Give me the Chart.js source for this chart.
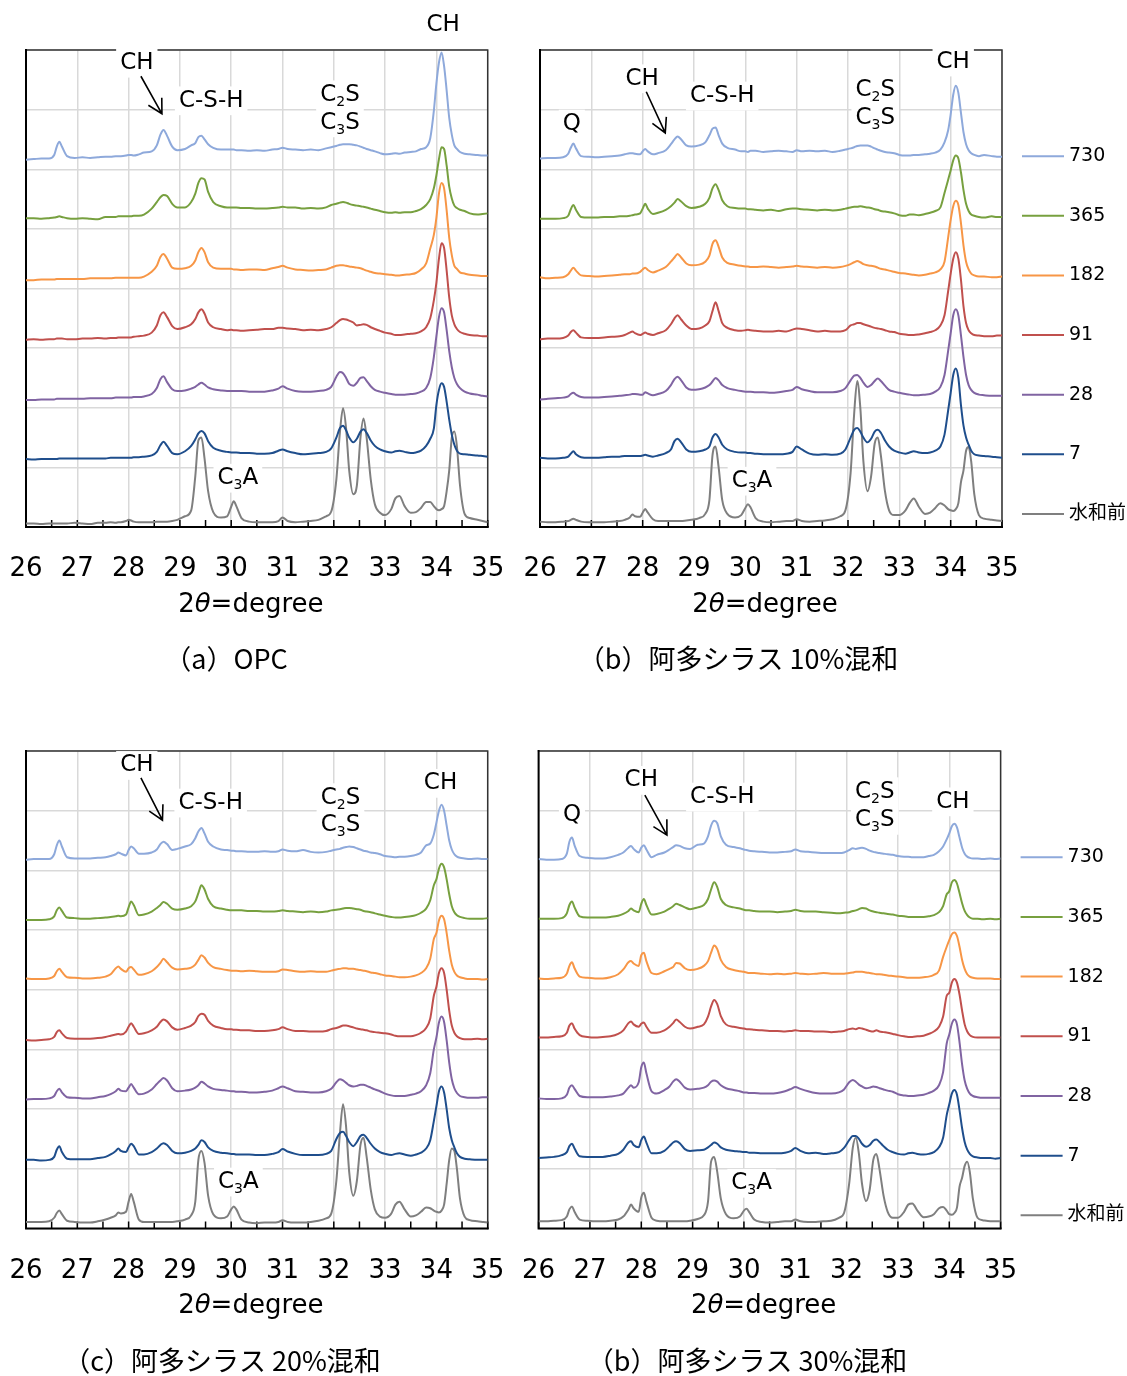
<!DOCTYPE html>
<html>
<head>
<meta charset="utf-8">
<script src="https://cdn.jsdelivr.net/npm/chart.js@4.4.1/dist/chart.umd.min.js"></script>
<style>
  html, body { margin: 0; padding: 0; background: #fff; }
  #wrap { position: relative; width: 1127px; height: 1376px; overflow: hidden; }
  canvas { position: absolute; }
</style>
</head>
<body>
<div id="wrap">
  <canvas id="pa" width="513" height="700" style="left:0;top:0"></canvas>
  <canvas id="pb" width="614" height="700" style="left:513px;top:0"></canvas>
  <canvas id="pc" width="513" height="676" style="left:0;top:700px"></canvas>
  <canvas id="pd" width="614" height="676" style="left:513px;top:700px"></canvas>
</div>
<script>
// 2θ sampling positions (degrees)
const twoTheta = [
  26.0, 26.15, 26.3, 26.45, 26.55, 26.6, 26.65, 26.7, 26.8, 26.95,
  27.1, 27.25, 27.4, 27.55, 27.65, 27.75, 27.8, 27.85, 27.95,
  28.0, 28.05, 28.1, 28.2, 28.3, 28.45, 28.55, 28.62, 28.68, 28.75, 28.85, 28.95,
  29.1, 29.22, 29.3, 29.36, 29.42, 29.48, 29.55, 29.65, 29.8, 29.92,
  30.0, 30.05, 30.1, 30.2, 30.35, 30.5, 30.65, 30.8, 30.92,
  31.0, 31.1, 31.25, 31.4, 31.55, 31.7, 31.85, 31.95,
  32.05, 32.12, 32.18, 32.24, 32.3, 32.38, 32.45, 32.52, 32.58, 32.64, 32.72, 32.8, 32.9,
  33.0, 33.12, 33.2, 33.28, 33.38, 33.5, 33.6, 33.7, 33.8, 33.88, 33.95,
  34.0, 34.05, 34.1, 34.15, 34.2, 34.25, 34.3, 34.35, 34.4, 34.46, 34.55, 34.65, 34.8, 34.9, 35.0
];

// curing age of each trace (top to bottom) and its vertical stacking step
const ages = ['730', '365', '182', '91', '28', '7', '水和前'];
const stackOffset = [600, 500, 400, 300, 200, 100, 0];
const lineColors = ['#8EA9DB', '#77A03F', '#F79646', '#C0504D', '#8064A2', '#1F4E8C', '#7F7F7F'];

// (a) OPC — intensity above each trace's stacking step
const opc730 = [16,17,18,18,24,38,46,38,22,19, 20,19,20,21,21,22,22,22,23, 24,24,23,25,28,30,40,58,66,56,38,32, 34,40,44,54,56,50,42,36,33,33, 33,33,32,32,31,32,31,33,34, 36,34,33,32,33,32,35,37, 39,41,42,42,42,41,40,38,36,34,32,30,27, 25,26,27,26,28,29,30,34,37,52,98, 144,179,196,173,132,86,58,40,34,29,26,25,24,23,23];
const opc365 = [18,18,17,18,19,20,21,20,18,17, 18,17,16,20,20,20,21,21,21, 21,21,22,22,24,34,45,53,57,55,42,36, 36,45,59,77,85,83,62,45,38,36, 36,36,36,35,35,34,34,35,36, 37,36,36,34,35,34,36,40, 42,44,45,44,42,40,39,38,37,36,34,32,30, 28,27,28,27,28,28,30,33,40,50,68, 90,117,137,134,106,71,51,39,35,32,30,26,24,25,26];
const opc182 = [14,14,15,15,15,16,16,16,16,16, 16,17,17,17,17,18,18,18,18, 18,18,18,18,20,28,38,53,58,50,35,33, 34,38,47,61,68,61,44,35,33,33, 33,32,32,31,32,32,31,34,36, 38,35,32,31,30,31,32,35, 38,39,39,38,37,36,35,34,32,30,28,26,25, 24,23,22,22,23,24,26,32,42,67,90, 119,159,177,168,131,85,56,38,33,27,25,23,22,21,21];
const opc91 = [14,15,14,15,15,16,16,16,15,15, 16,16,17,16,17,17,18,18,18, 18,18,19,20,21,26,38,55,60,52,37,32, 35,40,49,60,65,58,43,35,32,30, 31,30,30,29,30,31,32,32,34, 34,33,32,30,31,30,32,35, 42,47,49,48,46,43,38,39,40,39,35,32,29, 26,24,22,22,23,24,25,28,35,50,80, 110,150,176,168,130,85,55,40,32,27,24,22,21,20,20];
const opc28 = [13,13,14,14,14,15,15,15,15,15, 15,16,16,16,16,17,17,17,17, 17,17,18,18,19,23,33,48,53,43,31,28, 29,32,35,39,42,39,34,31,29,28, 28,28,28,28,27,27,27,29,32, 36,32,28,27,27,28,30,35, 52,60,58,50,40,37,42,50,51,45,36,30,27, 25,23,22,22,22,23,24,27,33,50,85, 120,152,167,160,130,95,68,50,40,33,27,24,22,20,19];
const opc7 = [14,13,14,14,14,14,15,15,15,15, 15,15,15,15,16,16,16,16,16, 16,16,17,17,18,20,26,37,43,36,24,22, 27,36,47,57,61,57,44,33,28,26, 25,25,25,24,24,23,23,24,28, 30,27,24,22,23,24,26,32, 50,66,70,62,50,42,48,60,64,58,45,36,30, 27,25,27,28,26,24,25,28,36,48,65, 105,130,141,135,110,80,55,38,28,23,22,21,20,19,18];
const opcRaw = [6,6,5,6,6,6,6,6,6,7, 6,5,7,7,8,7,8,8,10, 12,11,9,8,8,8,9,9,9,9,10,12, 18,28,85,145,150,115,60,25,16,18, 34,43,35,15,9,8,8,8,10, 16,10,8,9,10,12,18,26, 80,160,199,165,95,55,70,150,182,150,80,38,24, 20,30,48,52,35,24,25,32,42,42,35, 30,28,30,35,60,95,150,160,135,70,22,15,12,10,8];

// (b) 阿多シラス 10%
const s10_730 = [18,19,19,20,26,36,43,35,22,21, 20,21,22,23,25,27,27,26,25, 30,34,30,25,27,32,42,50,55,50,40,38, 40,45,57,68,70,57,43,36,33,30, 30,29,31,31,29,30,31,30,29, 32,30,31,30,31,29,31,33, 35,37,39,40,40,40,38,35,33,31,29,28,27, 24,23,23,24,24,25,26,28,33,45,65, 92,125,140,128,95,62,42,32,27,24,22,24,22,21,21];
const s10_365 = [17,17,17,18,22,33,40,32,20,19, 19,20,20,21,21,22,23,24,26, 34,42,34,25,27,32,38,44,50,46,38,35, 37,42,52,68,75,65,48,38,35,34, 34,33,33,32,31,32,30,33,34, 34,33,32,31,32,31,32,34, 36,37,37,38,37,36,35,33,32,30,29,28,26, 23,22,24,24,23,25,27,30,36,60,82, 98,115,123,118,95,65,42,30,24,22,20,19,21,20,20];
const s10_182 = [19,17,18,19,24,30,35,30,22,21, 20,21,22,23,24,24,25,25,28, 32,35,31,27,30,36,45,52,58,52,42,39, 40,45,55,75,81,70,52,43,40,38, 37,37,36,36,37,36,35,36,37, 38,37,36,35,36,35,36,38, 41,44,46,44,41,39,38,37,35,33,32,30,28, 26,25,24,23,22,23,25,27,32,45,85, 115,138,147,140,110,72,45,32,25,22,20,20,19,19,20];
const s10_91 = [15,16,16,17,21,27,30,26,18,17, 17,18,19,20,22,26,28,25,22, 24,26,24,22,25,30,40,50,55,48,38,32, 33,38,45,62,77,62,42,34,30,29, 30,31,30,29,28,28,29,28,31, 33,32,30,28,29,28,28,30, 38,40,42,42,40,38,36,34,33,32,30,28,27, 24,23,22,22,23,25,27,30,38,55,95, 125,150,161,150,115,70,42,30,25,22,21,20,20,21,21];
const s10_28 = [14,15,16,17,19,23,25,22,18,17, 17,18,19,20,21,22,23,23,22, 22,26,24,21,23,28,38,48,52,46,34,30, 31,34,38,44,50,46,38,33,30,28, 27,27,27,26,26,25,26,28,30, 35,31,28,26,26,26,28,33, 46,54,55,50,42,35,38,45,49,45,37,30,27, 25,23,22,21,21,22,23,27,35,55,95, 125,155,165,155,122,85,55,38,30,25,22,21,20,20,20];
const s10_7 = [16,15,15,16,18,23,27,22,17,16, 16,17,18,18,19,19,19,19,19, 20,21,20,18,20,24,30,44,48,42,30,26, 27,30,35,50,56,50,38,30,26,25, 25,24,24,23,22,22,22,23,26, 35,30,23,21,22,21,23,30, 50,63,66,60,50,42,48,60,63,58,45,35,28, 25,23,25,27,25,24,25,28,35,55,95, 125,155,166,150,105,70,50,38,28,22,20,19,18,17,16];
const s10_raw = [9,8,8,9,10,12,14,12,9,8, 8,8,9,10,12,16,21,18,17, 24,30,24,13,10,10,10,10,10,10,11,12, 15,22,45,120,135,100,45,22,16,20, 32,38,33,15,9,8,9,10,10, 13,10,9,10,11,13,18,28, 90,190,245,200,110,60,85,140,150,120,60,28,20, 20,28,40,48,34,22,24,32,40,36,30, 28,27,30,40,75,95,128,134,110,55,20,14,12,11,10];

// (c) 阿多シラス 20%
const s20_730 = [18,19,19,19,27,42,50,40,22,20, 20,20,21,22,24,27,30,28,25, 34,40,37,28,28,30,35,44,48,44,34,36, 40,44,54,65,71,62,48,40,35,34, 33,33,32,32,31,31,32,31,32, 35,33,32,34,31,30,31,33, 35,36,38,39,40,39,37,35,33,32,30,29,27, 24,23,22,23,23,24,26,30,42,45,60, 80,100,110,100,75,50,35,27,23,21,20,19,20,19,19];
const s20_365 = [17,17,17,18,23,33,38,32,21,20, 19,19,20,21,22,23,24,23,26, 38,48,42,25,26,31,37,42,47,44,36,34, 36,40,48,62,75,68,52,40,36,34, 33,33,33,33,32,32,31,31,32, 33,32,31,30,31,30,31,33, 34,35,36,37,37,36,35,34,32,31,30,28,26, 24,22,21,21,22,23,25,29,36,50,75, 85,103,111,105,85,60,40,30,25,22,20,19,19,19,20];
const s20_182 = [19,18,18,19,23,31,35,30,21,20, 19,19,20,22,26,36,39,35,30, 36,38,34,25,26,31,38,45,52,46,37,34, 35,37,42,50,58,54,45,38,35,33, 32,32,32,31,32,31,30,30,31, 34,33,31,30,31,30,30,32, 34,35,36,36,35,35,34,33,32,31,29,28,26, 24,23,22,21,21,22,24,28,36,52,85, 95,116,124,118,95,65,42,30,24,21,19,18,18,17,18];
const s20_91 = [16,15,16,17,21,29,32,27,19,18, 18,18,19,21,23,25,26,25,30, 38,44,38,26,27,32,38,46,50,47,37,33, 36,40,46,56,60,58,48,40,36,34, 34,33,33,32,32,31,31,32,34, 37,34,31,31,30,30,31,34, 36,38,40,40,39,37,35,34,33,32,30,29,28, 27,25,23,22,22,22,24,28,36,52,90, 105,128,136,128,100,65,40,28,22,19,17,17,18,17,18];
const s20_28 = [16,17,17,18,22,30,34,28,20,19, 18,18,20,22,25,30,34,31,30, 36,42,36,25,26,33,42,48,52,48,35,30, 31,33,36,40,46,43,38,34,32,31, 30,30,29,29,28,28,29,31,35, 38,35,30,29,28,28,30,34, 45,50,48,44,40,38,39,41,41,39,36,33,30, 26,23,22,22,22,24,26,30,40,60,100, 120,145,155,146,115,78,50,35,27,22,20,19,19,20,20];
const s20_7 = [15,15,14,15,20,32,38,28,17,16, 16,16,18,20,24,30,34,30,28, 36,42,38,24,24,28,34,40,43,40,30,26, 27,30,34,40,48,45,36,30,27,26, 25,25,24,24,24,23,23,25,28, 33,29,25,23,23,23,25,30, 50,60,62,55,45,38,45,55,57,52,42,34,28, 25,23,25,26,24,22,24,27,34,48,80, 105,130,138,128,100,68,48,36,26,20,17,16,15,15,15];
const s20_raw = [11,11,11,12,18,26,30,24,13,11, 10,10,12,15,18,22,27,25,28, 45,58,45,15,11,11,11,11,11,11,11,12, 15,22,45,115,130,110,55,24,17,20, 32,37,32,15,10,9,10,10,11, 14,11,10,10,11,13,17,25, 80,160,208,170,95,55,80,140,152,120,65,32,20, 18,25,40,45,32,20,22,28,35,34,30, 28,27,30,40,75,115,134,130,100,50,20,14,12,11,10];

// (d) 阿多シラス 30%
const s30_730 = [19,18,18,19,28,48,55,42,24,21, 20,20,22,26,30,38,41,36,30, 38,42,35,22,26,30,35,39,42,41,37,36, 43,45,57,75,83,79,57,43,39,37, 35,34,33,32,31,30,30,31,32, 35,32,31,30,29,29,29,30, 34,37,36,37,38,36,33,31,30,29,28,27,26, 24,23,23,22,22,22,24,26,32,40,52, 62,74,78,72,55,38,28,23,21,20,20,19,20,19,20];
const s30_365 = [19,19,19,20,28,42,48,38,23,21, 21,21,22,24,27,32,36,33,30, 44,52,42,26,27,31,36,40,44,42,38,35, 38,42,52,68,80,72,52,42,38,36, 34,33,33,32,31,31,30,31,32, 34,32,31,31,30,29,28,29, 30,32,33,35,37,36,33,31,30,29,28,27,26, 24,23,22,22,22,22,23,25,30,40,60, 65,80,84,78,62,45,32,25,21,19,19,18,19,18,19];
const s30_182 = [19,18,19,20,27,40,46,36,22,20, 19,19,21,26,34,46,48,44,40, 58,62,48,28,26,31,35,38,45,44,36,33, 35,40,48,62,74,68,50,38,33,31, 30,29,28,28,27,26,27,26,27, 28,27,26,27,28,27,27,27, 28,29,30,30,30,29,28,27,26,26,25,24,23, 22,21,20,20,20,21,22,25,32,55,72, 83,93,96,90,72,50,35,26,22,20,19,19,19,18,18];
const s30_91 = [20,20,21,22,28,40,44,35,24,21, 20,21,22,26,32,44,47,42,38, 43,45,38,28,28,32,38,44,50,46,38,35, 38,42,55,72,83,76,56,42,38,36, 35,34,34,33,32,31,31,30,31, 32,31,31,30,30,29,30,31, 34,35,34,36,35,33,31,30,32,30,29,28,26, 24,22,21,21,22,23,26,30,38,55,90, 95,112,118,112,92,65,42,30,24,21,20,20,20,20,20];
const s30_28 = [18,17,17,18,24,36,40,34,22,20, 20,20,21,23,26,36,40,36,45, 70,78,60,30,26,32,38,46,50,46,36,33, 34,36,40,46,48,46,40,35,32,30, 28,28,27,27,26,26,27,30,34, 37,34,30,27,26,26,28,33, 45,49,46,41,38,35,36,38,37,35,33,31,29, 25,23,22,22,23,24,27,31,40,62,110, 125,143,150,142,112,75,48,34,26,22,20,19,19,19,19];
const s30_7 = [18,19,20,23,28,38,42,34,21,20, 20,20,22,25,32,44,46,40,36, 48,54,44,26,26,30,38,44,46,43,33,30, 31,32,36,40,44,42,36,32,30,29, 28,28,27,27,26,26,26,27,30, 35,30,26,27,25,26,28,35, 48,55,55,50,42,37,40,47,49,45,38,32,28, 25,24,26,27,25,24,25,28,36,52,90, 108,126,132,124,98,68,45,32,25,21,19,18,18,17,18];
const s30_raw = [12,12,13,14,20,32,37,28,15,13, 12,12,13,15,20,32,40,34,28, 52,60,45,18,13,12,12,12,12,12,12,13, 16,22,45,112,120,95,50,24,17,20, 30,33,28,15,11,10,11,12,12, 15,12,11,11,12,13,18,26, 75,135,152,125,75,46,65,115,125,100,55,28,18, 18,28,40,42,30,19,20,24,34,36,30, 24,23,26,35,70,85,105,112,95,50,18,14,12,12,12];

// x-axis tick labels
const tickDegrees = [26, 27, 28, 29, 30, 31, 32, 33, 34, 35];

const FONT = '"DejaVu Sans", "Noto Sans CJK JP", sans-serif';
const CJK = '"Noto Sans CJK JP", "DejaVu Sans", sans-serif';

// peak labels: [text, 2θ, height on the stacked axis]; "_n" marks a subscript
const panels = [
  {
    id: 'pa', series: [opc730, opc365, opc182, opc91, opc28, opc7, opcRaw],
    pad: [26, 50, 25.3], axisH: 173, legend: false,
    caption: '（a）OPC', captionX: 226,
    notes: [['CH', 34.13, 842], ['CH', 28.16, 778], ['C-S-H', 29.61, 715], ['C_2S', 32.12, 725], ['C_3S', 32.12, 678], ['C_3A', 30.13, 82]],
    arrow: [28.24, 756, 28.65, 693]
  },
  {
    id: 'pb', series: [s10_730, s10_365, s10_182, s10_91, s10_28, s10_7, s10_raw],
    pad: [27, 50, 125], axisH: 173, legend: true,
    caption: '（b）阿多シラス 10%混和', captionX: 225,
    notes: [['Q', 26.62, 676], ['CH', 27.99, 752], ['C-S-H', 29.55, 723], ['C_2S', 32.53, 733], ['C_3S', 32.53, 686], ['CH', 34.05, 780], ['C_3A', 30.13, 77]],
    arrow: [28.07, 730, 28.44, 661]
  },
  {
    id: 'pc', series: [s20_730, s20_365, s20_182, s20_91, s20_28, s20_7, s20_raw],
    pad: [26, 51, 25.3], axisH: 147.5, legend: false,
    caption: '（c）阿多シラス 20%混和', captionX: 222,
    notes: [['CH', 28.16, 776], ['C-S-H', 29.6, 713], ['C_2S', 32.13, 722], ['C_3S', 32.13, 676], ['CH', 34.08, 746], ['C_3A', 30.14, 78]],
    arrow: [28.24, 755, 28.66, 684]
  },
  {
    id: 'pd', series: [s30_730, s30_365, s30_182, s30_91, s30_28, s30_7, s30_raw],
    pad: [25.6, 51, 126.4], axisH: 147.5, legend: true,
    caption: '（b）阿多シラス 30%混和', captionX: 234,
    notes: [['Q', 26.65, 693], ['CH', 28.0, 751], ['C-S-H', 29.58, 723], ['C_2S', 32.55, 732], ['C_3S', 32.55, 684], ['CH', 34.07, 715], ['C_3A', 30.15, 76]],
    arrow: [28.07, 726, 28.5, 659]
  }
];

function splitSub(s) {
  const out = [];
  for (let i = 0; i < s.length; i++) {
    if (s[i] === '_' && i + 1 < s.length) { out.push({ t: s[i + 1], sub: true }); i++; }
    else out.push({ t: s[i], sub: false });
  }
  return out;
}

function drawNote(ctx, text, cx, cy, size) {
  const parts = splitSub(text);
  const mainF = size + 'px ' + FONT;
  const subF = Math.round(size * 0.62) + 'px ' + FONT;
  let w = 0;
  parts.forEach(p => { ctx.font = p.sub ? subF : mainF; p.w = ctx.measureText(p.t).width; w += p.w; });
  const x0 = cx - w / 2;
  ctx.fillStyle = '#fff';
  ctx.fillRect(x0 - 4, cy - size * 0.62, w + 8, size * 1.25);
  ctx.fillStyle = '#000';
  ctx.textBaseline = 'middle';
  ctx.textAlign = 'left';
  let x = x0;
  parts.forEach(p => {
    ctx.font = p.sub ? subF : mainF;
    ctx.fillText(p.t, x, p.sub ? cy + size * 0.33 : cy);
    x += p.w;
  });
}

function makeDecor(def) {
  return {
    id: 'decor_' + def.id,
    beforeDatasetsDraw(chart) {
      const { ctx, chartArea: a, scales: { x, y } } = chart;
      ctx.save();
      // plot frame
      ctx.lineCap = 'square';
      ctx.strokeStyle = '#333';
      ctx.lineWidth = 1.5;
      ctx.beginPath();
      ctx.moveTo(a.left, a.top); ctx.lineTo(a.right, a.top); ctx.lineTo(a.right, a.bottom);
      ctx.stroke();
      ctx.strokeStyle = '#000';
      ctx.lineWidth = 2;
      ctx.beginPath();
      ctx.moveTo(a.left, a.top); ctx.lineTo(a.left, a.bottom); ctx.lineTo(a.right, a.bottom);
      ctx.stroke();
      // inward tick marks every 0.5°
      ctx.lineWidth = 1.5;
      ctx.lineCap = 'butt';
      x.ticks.forEach(t => {
        const px = x.getPixelForValue(t.value);
        ctx.beginPath(); ctx.moveTo(px, a.bottom); ctx.lineTo(px, a.bottom - 7); ctx.stroke();
      });
      // phase labels
      def.notes.forEach(([txt, dx, dy]) => drawNote(ctx, txt, x.getPixelForValue(dx), y.getPixelForValue(dy), 23));
      ctx.restore();
    },
    afterDatasetsDraw(chart) {
      const { ctx, scales: { x, y } } = chart;
      const [x1, y1, x2, y2] = def.arrow;
      const p1 = { x: x.getPixelForValue(x1), y: y.getPixelForValue(y1) };
      const p2 = { x: x.getPixelForValue(x2), y: y.getPixelForValue(y2) };
      const ang = Math.atan2(p2.y - p1.y, p2.x - p1.x);
      const L = 16, s = 0.5;
      ctx.save();
      ctx.strokeStyle = '#000';
      ctx.lineWidth = 1.6;
      ctx.beginPath();
      ctx.moveTo(p1.x, p1.y); ctx.lineTo(p2.x, p2.y);
      ctx.moveTo(p2.x - L * Math.cos(ang - s), p2.y - L * Math.sin(ang - s));
      ctx.lineTo(p2.x, p2.y);
      ctx.lineTo(p2.x - L * Math.cos(ang + s), p2.y - L * Math.sin(ang + s));
      ctx.stroke();
      ctx.restore();
    },
    afterDraw(chart) {
      const { ctx, chartArea: a, scales: { y } } = chart;
      ctx.save();
      ctx.fillStyle = '#000';
      ctx.textBaseline = 'middle';
      // axis title 2θ=degree
      const parts = [['2', ''], ['θ', 'italic '], ['=degree', '']];
      let w = 0;
      parts.forEach(p => { ctx.font = p[1] + '26px ' + FONT; p.w = ctx.measureText(p[0]).width; w += p.w; });
      let tx = (a.left + a.right) / 2 - 6 - w / 2;
      const ty = a.bottom + 78;
      ctx.textAlign = 'left';
      parts.forEach(p => { ctx.font = p[1] + '26px ' + FONT; ctx.fillText(p[0], tx, ty); tx += p.w; });
      // caption
      ctx.font = '27px ' + CJK;
      ctx.textAlign = 'center';
      ctx.fillText(def.caption, def.captionX, a.bottom + 132);
      // legend
      if (def.legend) {
        ctx.textAlign = 'left';
        ctx.font = '19px ' + FONT;
        ages.forEach((lab, i) => {
          const ly = y.getPixelForValue(stackOffset[i] + 22);
          ctx.strokeStyle = lineColors[i];
          ctx.lineWidth = 2;
          ctx.beginPath(); ctx.moveTo(a.right + 20, ly); ctx.lineTo(a.right + 62, ly); ctx.stroke();
          ctx.fillStyle = '#000';
          ctx.fillText(lab, a.right + 67, ly);
        });
      }
      ctx.restore();
    }
  };
}

panels.forEach(def => {
  const datasets = def.series.map((vals, i) => ({
    label: ages[i],
    data: vals.map((v, j) => ({ x: twoTheta[j], y: v + stackOffset[i] })),
    borderColor: lineColors[i],
    borderWidth: 2,
    pointRadius: 0,
    fill: false,
    cubicInterpolationMode: 'monotone'
  }));
  new Chart(document.getElementById(def.id), {
    type: 'line',
    data: { datasets },
    options: {
      responsive: false,
      animation: false,
      devicePixelRatio: 1,
      layout: { padding: { left: def.pad[0], top: def.pad[1], right: def.pad[2], bottom: 0 } },
      plugins: { legend: { display: false }, tooltip: { enabled: false } },
      scales: {
        x: {
          type: 'linear', min: 26, max: 35,
          afterFit: s => { s.height = def.axisH; s.paddingLeft = 0; s.paddingRight = 0; },
          ticks: {
            stepSize: 0.5, autoSkip: false, maxRotation: 0, padding: 27,
            color: '#000', font: { family: 'DejaVu Sans', size: 26 },
            callback: v => tickDegrees.includes(v) ? String(v) : ''
          },
          grid: {
            drawTicks: false, lineWidth: 1.5,
            color: c => (c.tick && tickDegrees.includes(c.tick.value)) ? '#D9D9D9' : 'rgba(0,0,0,0)'
          },
          border: { display: false }
        },
        y: {
          min: 0, max: 800,
          afterFit: s => { s.width = 0; s.paddingTop = 0; s.paddingBottom = 0; },
          ticks: { display: false, stepSize: 100 },
          grid: { drawTicks: false, color: '#D9D9D9', lineWidth: 1.5 },
          border: { display: false }
        }
      }
    },
    plugins: [makeDecor(def)]
  });
});
</script>
</body>
</html>
